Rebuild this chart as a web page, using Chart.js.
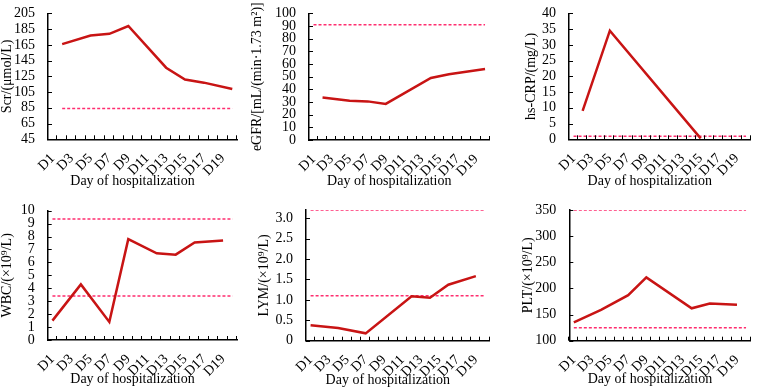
<!DOCTYPE html>
<html>
<head>
<meta charset="utf-8">
<script src="https://cdn.jsdelivr.net/npm/chart.js@4.4.1/dist/chart.umd.min.js"></script>
<style>
  body { margin: 0; background: #fff; }
  .panel { position: absolute; }
</style>
</head>
<body>
<div class="panel" style="left:0;top:0"><canvas id="c1" width="250" height="195"></canvas></div>
<div class="panel" style="left:250px;top:0"><canvas id="c2" width="250" height="195"></canvas></div>
<div class="panel" style="left:500px;top:0"><canvas id="c3" width="261" height="195"></canvas></div>
<div class="panel" style="left:0;top:195px"><canvas id="c4" width="250" height="194"></canvas></div>
<div class="panel" style="left:250px;top:195px"><canvas id="c5" width="250" height="194"></canvas></div>
<div class="panel" style="left:500px;top:195px"><canvas id="c6" width="261" height="194"></canvas></div>
<script>
// day categories (only odd days get a label)
var days = ['D1','D2','D3','D4','D5','D6','D7','D8','D9','D10',
            'D11','D12','D13','D14','D15','D16','D17','D18','D19','D20'];

// measured values, null = not measured that day
var scr   = [null,166,null,null,177,null,179,null,189,null,null,null,136,null,121,null,117,null,null,109];
var egfr  = [null,33.5,null,null,31,null,30.5,null,28.5,null,null,null,null,49,null,52,null,null,null,56];
var crp   = [null,9,null,null,34.5,null,null,null,null,null,null,null,null,null,0.3,null,null,null,null,null];
var wbc   = [1.5,null,null,4.3,null,null,1.4,null,7.8,null,null,6.7,null,6.6,null,7.55,null,null,7.7,null];
var lym   = [0.38,null,null,0.31,null,null,0.18,null,null,null,null,1.09,null,1.05,null,1.37,null,null,1.58,null];
var plt   = [135,null,null,159,null,null,187,null,221,null,null,null,null,162,null,171,null,null,169,null];

// reference (normal range) lines
var scrRef  = [84];
var egfrRef = [91];
var crpRef  = [1];
var wbcRef  = [9.35, 3.4];
var lymRef  = [3.2, 1.1];
var pltRef  = [350, 125];

var X_TITLE = 'Day of hospitalization';
var FONT = "'Liberation Serif', 'Times New Roman', serif";
var LINE_COLOR = '#c81414';
var REF_COLOR = '#ff2d6f';

// tick marks point inward, and the x title sits a bit left of centre
var axisExtras = {
  id: 'axisExtras',
  afterDraw: function(chart, args, opts) {
    var ctx = chart.ctx, a = chart.chartArea, x = chart.scales.x, y = chart.scales.y;
    var x0 = x.getPixelForValue(0);
    var step = x.getPixelForValue(1) - x0;
    ctx.save();
    ctx.strokeStyle = '#000';
    ctx.lineWidth = 1;
    ctx.beginPath();
    for (var i = 0; i <= days.length; i++) {
      var px = Math.round(x0 + (i - 0.5) * step) - 0.5;
      ctx.moveTo(px, a.bottom);
      ctx.lineTo(px, a.bottom - 4);
    }
    for (var j = 0; j < y.ticks.length; j++) {
      var py = Math.round(y.getPixelForValue(y.ticks[j].value)) + 0.5;
      ctx.moveTo(a.left, py);
      ctx.lineTo(a.left + 4, py);
    }
    ctx.stroke();

    ctx.fillStyle = '#000';
    ctx.font = '14px ' + FONT;
    ctx.textAlign = 'center';
    ctx.textBaseline = 'middle';
    ctx.fillText(X_TITLE, (a.left + a.right) / 2 - 10, chart.height - opts.titleOffset);
    ctx.restore();
  }
};

function makeChart(p) {
  var sets = [{
    data: p.data,
    borderColor: LINE_COLOR,
    borderWidth: 2.5,
    pointRadius: 0,
    tension: 0,
    spanGaps: true
  }];
  p.refs.forEach(function(v) {
    sets.push({
      data: days.map(function(d, i) { return i >= (p.refStart || 0) ? v : null; }),
      borderColor: REF_COLOR,
      borderWidth: 1.5,
      borderDash: [3, 2],
      pointRadius: 0,
      spanGaps: true
    });
  });

  var canvas = document.getElementById(p.id);
  new Chart(canvas, {
    type: 'line',
    data: { labels: days, datasets: sets },
    options: {
      responsive: false,
      animation: false,
      layout: { padding: { left: p.padL, top: p.top, right: canvas.width - p.right, bottom: 0 } },
      plugins: {
        legend: { display: false },
        tooltip: { enabled: false },
        axisExtras: { titleOffset: p.xTitleOffset }
      },
      scales: {
        x: {
          offset: true,
          grid: { display: false },
          border: { display: true, color: '#000', width: 1.5 },
          ticks: {
            autoSkip: false, minRotation: 45, maxRotation: 45, padding: 3,
            color: '#000', font: { family: FONT, size: 14 },
            callback: function(v, i) { return i % 2 === 0 ? days[i] : ''; }
          },
          afterFit: function(s) { s.height = canvas.height - p.bottom; }
        },
        y: {
          min: p.min, max: p.max,
          grid: { display: false },
          border: { display: true, color: '#000', width: 1.5 },
          ticks: {
            autoSkip: false, includeBounds: false, stepSize: p.step, padding: 5, color: '#000',
            font: { family: FONT, size: 14 },
            callback: p.fmt || function(v) { return v; }
          },
          title: {
            display: true, text: p.yTitle, color: '#000',
            font: { family: FONT, size: 14, lineHeight: 1 }, padding: 0
          },
          afterFit: function(s) { s.width = p.left - p.padL; }
        }
      }
    },
    plugins: [axisExtras]
  });
}

makeChart({ id: 'c1', data: scr, refs: scrRef, refStart: 1, yTitle: 'Scr/(μmol/L)',
  min: 45, max: 205, step: 20,
  left: 48, right: 237, top: 9.3, bottom: 139.3, padL: 0, xTitleOffset: 13.3 });
makeChart({ id: 'c2', data: egfr, refs: egfrRef, yTitle: 'eGFR/[mL/(min·1.73 m²)]',
  min: 0, max: 100, step: 10,
  left: 59, right: 246.7, top: 8.3, bottom: 140, padL: 0, xTitleOffset: 13.3 });
makeChart({ id: 'c3', data: crp, refs: crpRef, yTitle: 'hs-CRP/(mg/L)',
  min: 0, max: 40, step: 5,
  left: 69, right: 258.3, top: 6, bottom: 139.3, padL: 24, xTitleOffset: 13.3 });
makeChart({ id: 'c4', data: wbc, refs: wbcRef, yTitle: 'WBC/(×10⁹/L)',
  min: 0, max: 10, step: 1,
  left: 47.7, right: 237.3, top: 15.7, bottom: 145, padL: 0, xTitleOffset: 10 });
makeChart({ id: 'c5', data: lym, refs: lymRef, yTitle: 'LYM/(×10⁹/L)',
  min: 0, max: 3.2, step: 0.5,
  fmt: function(v) { return v === 0 ? '0' : v.toFixed(1); },
  left: 56, right: 246.7, top: 15, bottom: 145.7, padL: 7, xTitleOffset: 9 });
makeChart({ id: 'c6', data: plt, refs: pltRef, yTitle: 'PLT/(×10⁹/L)',
  min: 100, max: 350, step: 50,
  left: 69.3, right: 258.3, top: 15, bottom: 145.7, padL: 21, xTitleOffset: 9.7 });
</script>
</body>
</html>
